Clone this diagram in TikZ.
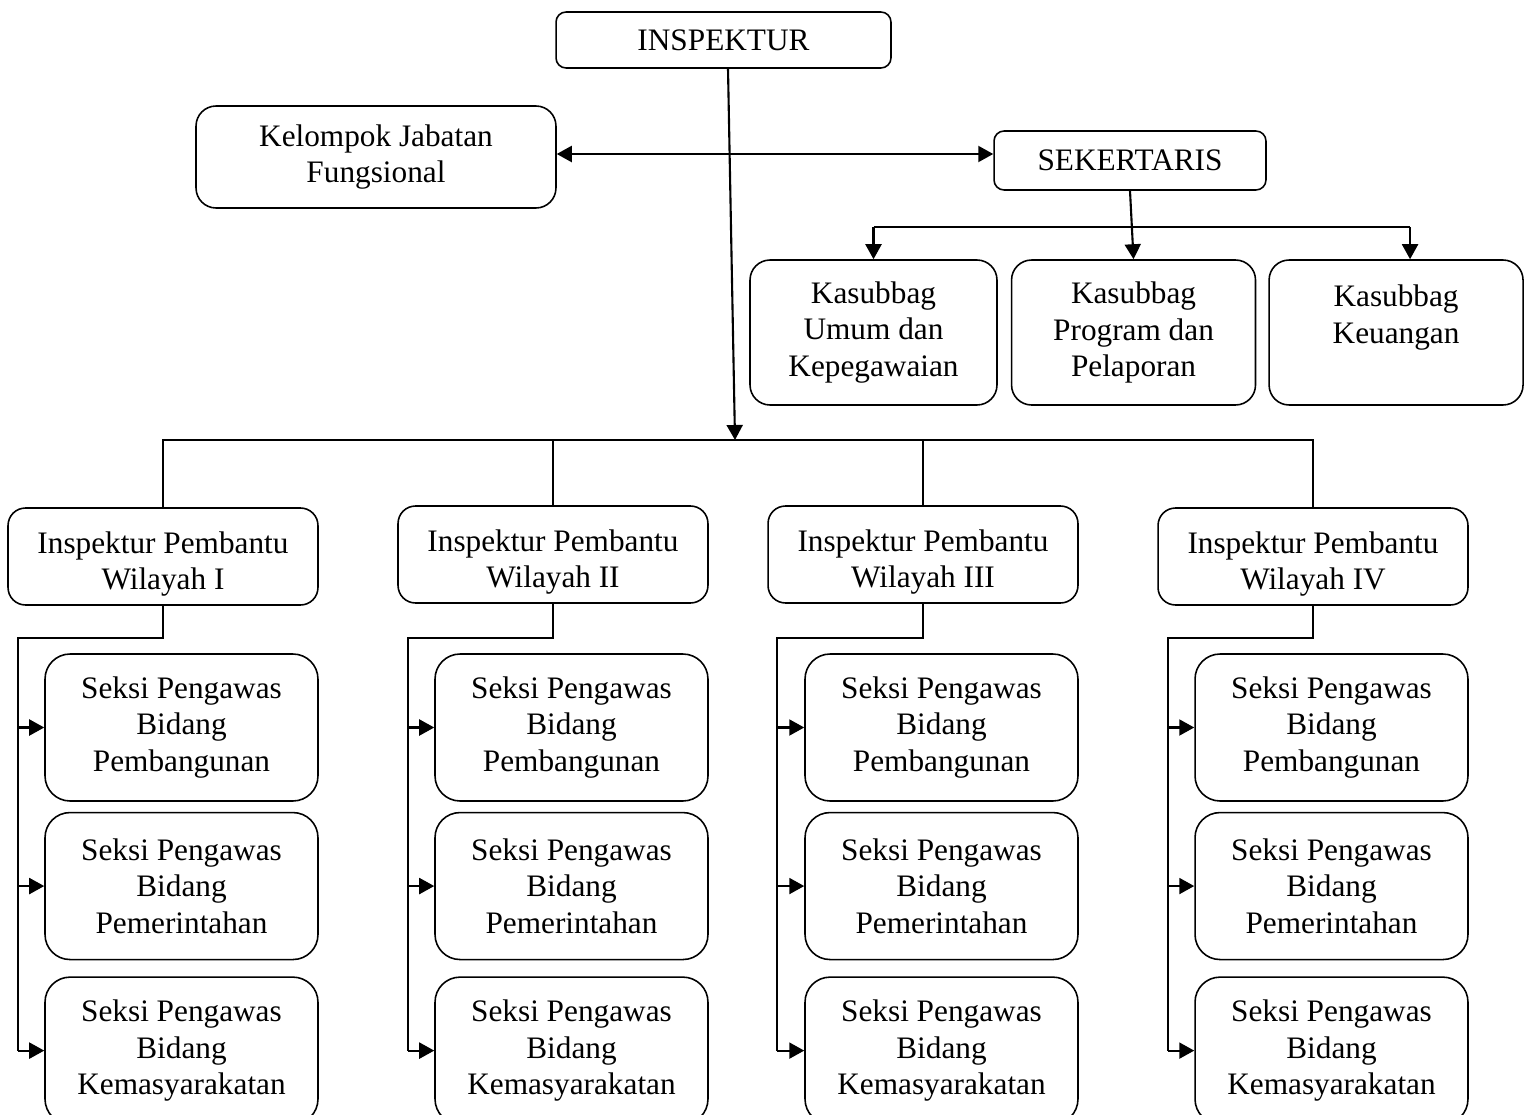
\documentclass[tikz,border=0pt]{standalone}
\usepackage{fontspec}
\setmainfont{Liberation Serif}
\usetikzlibrary{arrows.meta,positioning}

\begin{document}
\begin{tikzpicture}[
    x=0.02cm, y=-0.02cm,
    box/.style={rectangle, draw, align=center, inner sep=0pt, line width=0.9pt, font=\fontsize{17.8}{20.7}\selectfont},
    head/.style={box, rounded corners=0.2cm, minimum width=6.7cm, minimum height=1.12cm},
    side/.style={box, rounded corners=0.4cm, minimum width=7.2cm, minimum height=2.04cm},
    sec/.style={box, rounded corners=0.2cm, minimum width=5.44cm, minimum height=1.18cm},
    sub/.style={box, rounded corners=0.4cm, minimum height=2.9cm},
    irban/.style={box, rounded corners=0.35cm, minimum width=6.2cm, minimum height=1.94cm},
    seksi/.style={box, rounded corners=0.5cm, minimum width=5.46cm, minimum height=2.94cm},
    line/.style={line width=0.9pt},
    arrow/.style={line width=1.2pt, -{Triangle[length=0.3cm, width=0.32cm]}},
    biarrow/.style={line width=1.2pt, {Triangle[length=0.3cm, width=0.32cm]}-{Triangle[length=0.3cm, width=0.32cm]}}
]
\useasboundingbox (0,0) rectangle (1531,1115);

% Top level
\node[head] (insp) at (723.5,40) {INSPEKTUR};
\node[side] (kjf) at (376,157) {Kelompok Jabatan\\Fungsional};
\node[sec] (sek) at (1130,160.5) {SEKERTARIS};

% Sub bagian
\node[sub, minimum width=4.94cm] (kas1) at (873.5,332.5) {Kasubbag\\Umum dan\\Kepegawaian};
\node[sub, minimum width=4.88cm, right=0.26cm of kas1] (kas2) {Kasubbag\\Program dan\\Pelaporan};
\node[sub, minimum width=5.08cm, right=0.24cm of kas2] (kas3) {Kasubbag\\Keuangan\\\mbox{}};

% Inspektur pembantu
\node[irban] (ipw1) at (163,556.5) {\rule{0pt}{0.73cm}Inspektur Pembantu\\Wilayah I};
\node[irban] (ipw2) at (553,554.5) {\rule{0pt}{0.73cm}Inspektur Pembantu\\Wilayah II};
\node[irban] (ipw3) at (923,554.5) {\rule{0pt}{0.73cm}Inspektur Pembantu\\Wilayah III};
\node[irban] (ipw4) at (1313,556.5) {\rule{0pt}{0.73cm}Inspektur Pembantu\\Wilayah IV};

% Seksi wilayah I
\node[seksi] (s1a) at (181.5,727.5) {Seksi Pengawas\\Bidang\\Pembangunan};
\node[seksi, below=0.2cm of s1a] (s1b) {Seksi Pengawas\\Bidang\\Pemerintahan};
\node[seksi, below=0.32cm of s1b] (s1c) {Seksi Pengawas\\Bidang\\Kemasyarakatan};

% Seksi wilayah II
\node[seksi] (s2a) at (571.5,727.5) {Seksi Pengawas\\Bidang\\Pembangunan};
\node[seksi, below=0.2cm of s2a] (s2b) {Seksi Pengawas\\Bidang\\Pemerintahan};
\node[seksi, below=0.32cm of s2b] (s2c) {Seksi Pengawas\\Bidang\\Kemasyarakatan};

% Seksi wilayah III
\node[seksi] (s3a) at (941.5,727.5) {Seksi Pengawas\\Bidang\\Pembangunan};
\node[seksi, below=0.2cm of s3a] (s3b) {Seksi Pengawas\\Bidang\\Pemerintahan};
\node[seksi, below=0.32cm of s3b] (s3c) {Seksi Pengawas\\Bidang\\Kemasyarakatan};

% Seksi wilayah IV
\node[seksi] (s4a) at (1331.5,727.5) {Seksi Pengawas\\Bidang\\Pembangunan};
\node[seksi, below=0.2cm of s4a] (s4b) {Seksi Pengawas\\Bidang\\Pemerintahan};
\node[seksi, below=0.32cm of s4b] (s4c) {Seksi Pengawas\\Bidang\\Kemasyarakatan};

% Bus points
\coordinate (bus) at (735,440);
\coordinate (sb) at (1131,227);
\coordinate (sp1) at (18,638);
\coordinate (sp2) at (408,638);
\coordinate (sp3) at (777,638);
\coordinate (sp4) at (1168,638);

% Inspektur lines
\draw[biarrow] ([yshift=0.06cm]kjf.east) -- ([yshift=0.06cm]kjf.east -| sek.west);
\draw[arrow] ([xshift=0.09cm]insp.south) -- (bus);
\draw[line] (ipw1.north) -- (ipw1.north |- bus) -- (ipw4.north |- bus) -- (ipw4.north);
\draw[line] (ipw2.north) -- (ipw2.north |- bus);
\draw[line] (ipw3.north) -- (ipw3.north |- bus);

% Sekertaris lines
\draw[line] (kas1.north |- sb) -- ([xshift=0.28cm]kas3.north |- sb);
\draw[arrow] (sek.south) -- (kas2.north);
\draw[arrow] (kas1.north |- sb) -- (kas1.north);
\draw[arrow] ([xshift=0.28cm]kas3.north |- sb) -- ([xshift=0.28cm]kas3.north);

% Wilayah I
\draw[line] (ipw1.south) |- (sp1) -- (sp1 |- s1c.west);
\draw[arrow] (sp1 |- s1a.west) -- (s1a.west);
\draw[arrow] (sp1 |- s1b.west) -- (s1b.west);
\draw[arrow] (sp1 |- s1c.west) -- (s1c.west);

% Wilayah II
\draw[line] (ipw2.south) |- (sp2) -- (sp2 |- s2c.west);
\draw[arrow] (sp2 |- s2a.west) -- (s2a.west);
\draw[arrow] (sp2 |- s2b.west) -- (s2b.west);
\draw[arrow] (sp2 |- s2c.west) -- (s2c.west);

% Wilayah III
\draw[line] (ipw3.south) |- (sp3) -- (sp3 |- s3c.west);
\draw[arrow] (sp3 |- s3a.west) -- (s3a.west);
\draw[arrow] (sp3 |- s3b.west) -- (s3b.west);
\draw[arrow] (sp3 |- s3c.west) -- (s3c.west);

% Wilayah IV
\draw[line] (ipw4.south) |- (sp4) -- (sp4 |- s4c.west);
\draw[arrow] (sp4 |- s4a.west) -- (s4a.west);
\draw[arrow] (sp4 |- s4b.west) -- (s4b.west);
\draw[arrow] (sp4 |- s4c.west) -- (s4c.west);

\end{tikzpicture}
\end{document}
